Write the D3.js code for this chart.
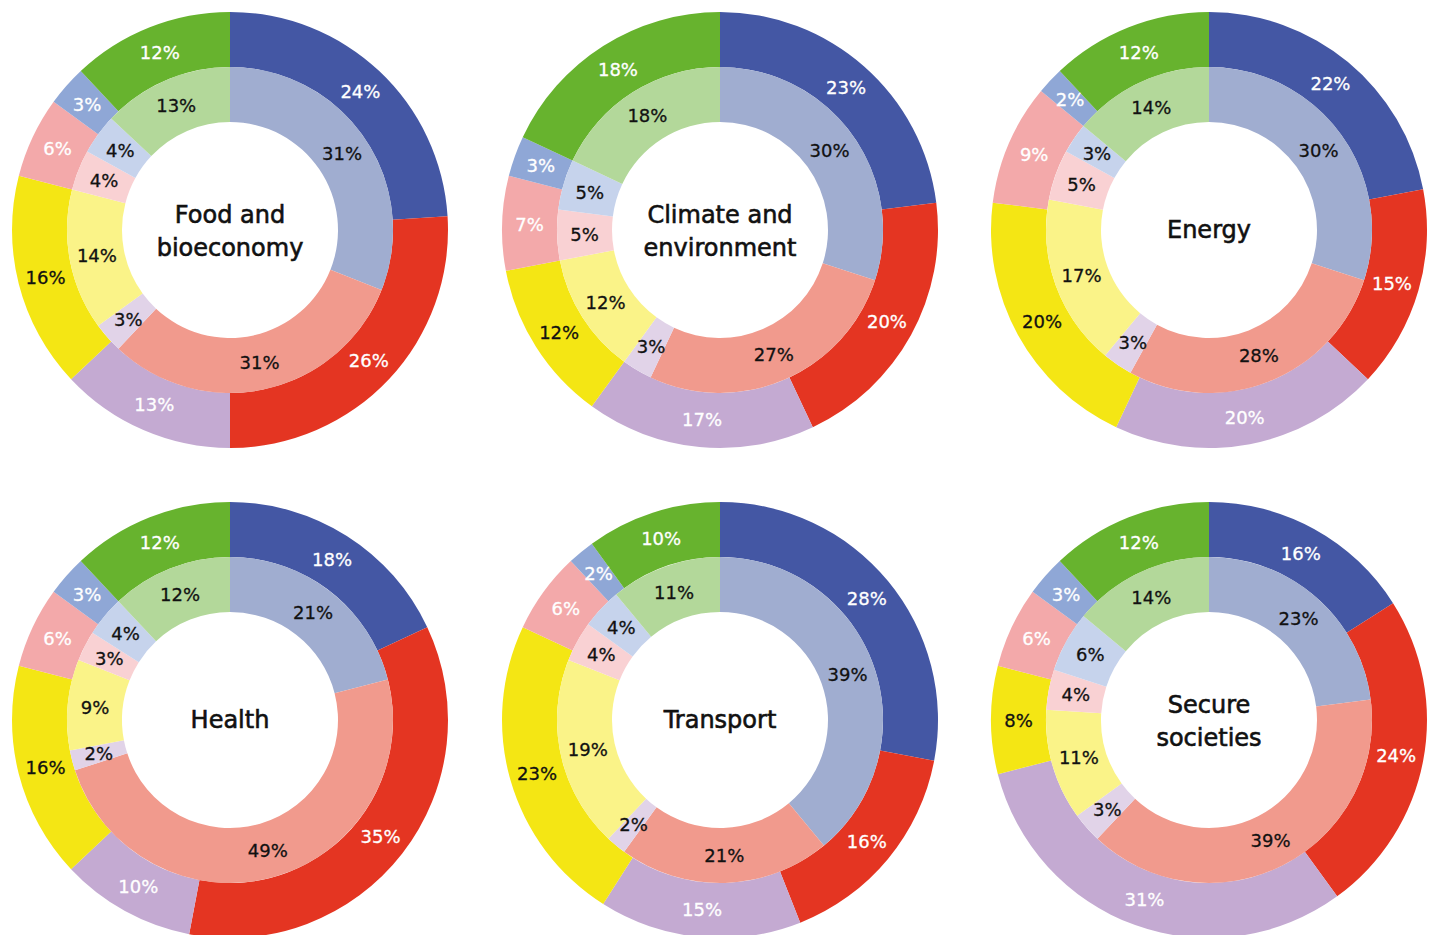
<!DOCTYPE html>
<meta charset="utf-8">
<style>
body { margin: 0; background: #fff; }
.lbl { font: 18px "DejaVu Sans", sans-serif; text-anchor: middle; dominant-baseline: central; stroke-width: 0.3px; }
.title { font: 24px "DejaVu Sans", sans-serif; text-anchor: middle; fill: #111; stroke: #111; stroke-width: 0.6px; }
</style>
<body>
<script src="https://d3js.org/d3.v7.min.js"></script>
<script>

// chart titles (one entry per line)
var titles = [
  ["Food and", "bioeconomy"],
  ["Climate and", "environment"],
  ["Energy"],
  ["Health"],
  ["Transport"],
  ["Secure", "societies"]
];

// outer ring shares, clockwise from 12 o'clock
var outerFood      = [24, 26, 13, 16, 6, 3, 12];
var outerClimate   = [23, 20, 17, 12, 7, 3, 18];
var outerEnergy    = [22, 15, 20, 20, 9, 2, 12];
var outerHealth    = [18, 35, 10, 16, 6, 3, 12];
var outerTransport = [28, 16, 15, 23, 6, 2, 10];
var outerSecure    = [16, 24, 31, 8, 6, 3, 12];

// inner ring shares
var innerFood      = [31, 31, 3, 14, 4, 4, 13];
var innerClimate   = [30, 27, 3, 12, 5, 5, 18];
var innerEnergy    = [30, 28, 3, 17, 5, 3, 14];
var innerHealth    = [21, 49, 2, 9, 3, 4, 12];
var innerTransport = [39, 21, 2, 19, 4, 4, 11];
var innerSecure    = [23, 39, 3, 11, 4, 6, 14];

var outerSets = [outerFood, outerClimate, outerEnergy, outerHealth, outerTransport, outerSecure];
var innerSets = [innerFood, innerClimate, innerEnergy, innerHealth, innerTransport, innerSecure];

var outerColors = ["#4457a4", "#e43522", "#c4aad2", "#f4e614", "#f3a9aa", "#8fa7d6", "#67b32e"];
var innerColors = ["#a0add0", "#f19a8d", "#e1d3e8", "#faf388", "#f9d1d3", "#c6d3ec", "#b3d89a"];
// outer labels are white except on yellow
var outerText = ["#fff", "#fff", "#fff", "#111", "#fff", "#fff", "#fff"];

var width = 1435, height = 935;
var cols = [230, 720, 1209], rows = [230, 720];
var rHole = 108, rMid = 163, rOut = 218;

var svg = d3.select("body").append("svg")
  .attr("width", width)
  .attr("height", height);

var pie = d3.pie().sort(null).value(function(d) { return d; });
var arcOuter = d3.arc().innerRadius(rMid).outerRadius(rOut);
var arcInner = d3.arc().innerRadius(rHole).outerRadius(rMid);

titles.forEach(function(t, i) {
  var g = svg.append("g")
    .attr("transform", "translate(" + cols[i % 3] + "," + rows[Math.floor(i / 3)] + ")");

  var outer = pie(outerSets[i]);
  var inner = pie(innerSets[i]);

  g.selectAll(".outer").data(outer).enter().append("path")
    .attr("class", "outer")
    .attr("d", arcOuter)
    .attr("fill", function(d, j) { return outerColors[j]; });

  g.selectAll(".inner").data(inner).enter().append("path")
    .attr("class", "inner")
    .attr("d", arcInner)
    .attr("fill", function(d, j) { return innerColors[j]; });

  g.selectAll(".olbl").data(outer).enter().append("text")
    .attr("class", "lbl olbl")
    .attr("transform", function(d) { return "translate(" + arcOuter.centroid(d) + ")"; })
    .attr("fill", function(d, j) { return outerText[j]; })
    .attr("stroke", function(d, j) { return outerText[j]; })
    .text(function(d) { return d.data + "%"; });

  g.selectAll(".ilbl").data(inner).enter().append("text")
    .attr("class", "lbl ilbl")
    .attr("transform", function(d) { return "translate(" + arcInner.centroid(d) + ")"; })
    .attr("fill", "#111")
    .attr("stroke", "#111")
    .text(function(d) { return d.data + "%"; });

  // centre title
  var y0 = t.length == 1 ? 8 : -7;
  g.selectAll(".title").data(t).enter().append("text")
    .attr("class", "title")
    .attr("y", function(d, k) { return y0 + k * 33; })
    .text(function(d) { return d; });
});

</script>
</body>
